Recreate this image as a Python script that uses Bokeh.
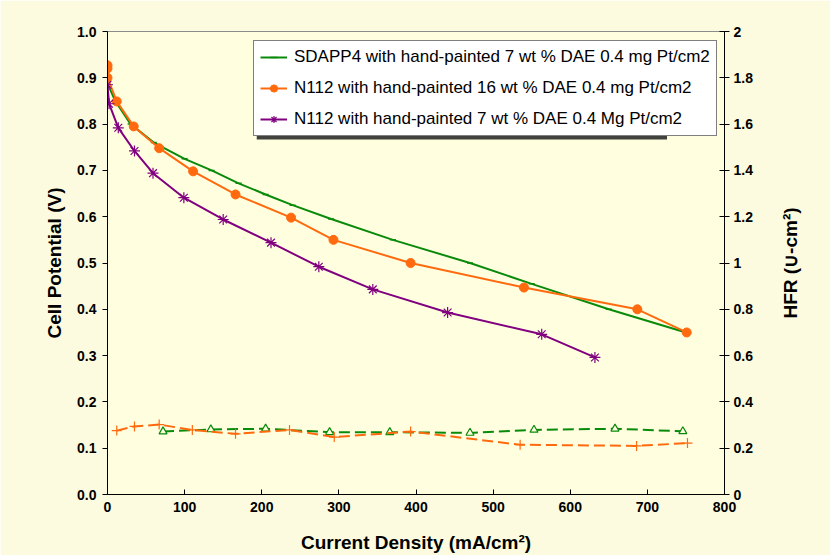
import math
from bokeh.plotting import figure
from bokeh.models import (Range1d, LinearAxis, Legend, LegendItem, BoxAnnotation, Label,
                          FixedTicker, PrintfTickFormatter, CustomJSTickFormatter)
from bokeh.embed import file_html
from bokeh.resources import INLINE

# ---- data ----
# SDAPP4 with hand-painted 7 wt % DAE (cell potential)
g_x = [0, 2, 10, 30, 60, 100, 135, 170, 205, 240, 290, 370, 470, 550, 650, 750]
g_v = [0.885, 0.880, 0.850, 0.800, 0.760, 0.725, 0.700, 0.672, 0.648, 0.625, 0.595, 0.550, 0.500, 0.455, 0.400, 0.350]
# N112 with hand-painted 16 wt % DAE (cell potential)
o_x = [0, 0, 0, 12, 34, 67, 111, 166, 238, 293, 393, 540, 687, 751]
o_v = [0.927, 0.920, 0.900, 0.849, 0.795, 0.748, 0.698, 0.648, 0.598, 0.550, 0.500, 0.447, 0.400, 0.350]
# N112 with hand-painted 7 wt % DAE (cell potential)
p_x = [0, 2, 14, 35, 59, 99, 150, 212, 274, 344, 441, 563, 632]
p_v = [0.885, 0.844, 0.792, 0.742, 0.694, 0.641, 0.594, 0.544, 0.492, 0.443, 0.393, 0.346, 0.296]
# HFR (right axis)
gh_x = [72, 134, 205, 288, 366, 470, 553, 658, 746]
gh_r = [0.272, 0.281, 0.284, 0.269, 0.269, 0.266, 0.279, 0.284, 0.273]
oh_x = [12, 35, 67, 110, 166, 236, 294, 393, 535, 686, 752]
oh_r = [0.276, 0.294, 0.302, 0.279, 0.262, 0.279, 0.248, 0.272, 0.215, 0.210, 0.222]

labels = ["SDAPP4 with hand-painted 7 wt % DAE 0.4 mg Pt/cm2",
          "N112 with hand-painted 16 wt % DAE 0.4 mg Pt/cm2",
          "N112 with hand-painted 7 wt % DAE 0.4 Mg Pt/cm2"]

GREEN = "#0A8A0A"
ORANGE = "#FF6A0E"
PURPLE = "#800080"
FONT = "Liberation Sans"

p = figure(width=830, height=555, output_backend="svg", toolbar_location=None,
           x_range=Range1d(0, 800), y_range=Range1d(0, 1.0),
           min_border_left=107, min_border_right=106, min_border_top=31, min_border_bottom=61)
p.extra_y_ranges = {"hfr": Range1d(0, 2)}
p.background_fill_color = "#FFFFE0"
p.border_fill_color = "#FCFBDF"
p.outline_line_color = "#8C8C8C"
p.xgrid.visible = False
p.ygrid.visible = False

# shadow of legend box
p.add_layout(BoxAnnotation(left=193.5, right=725.5, top=0.972, bottom=0.767,
                           fill_color="#202020", fill_alpha=0.85, line_color=None))

# main curves
rg = p.line(g_x, g_v, line_color=GREEN, line_width=2)
mg = p.scatter(g_x[1:], g_v[1:], marker="dash", size=6, line_color=GREEN, line_width=1.5)
ro = p.line(o_x, o_v, line_color=ORANGE, line_width=2)
mo = p.scatter(o_x, o_v, marker="circle", size=9, fill_color=ORANGE, line_color=ORANGE)
rp = p.line(p_x, p_v, line_color=PURPLE, line_width=2)
mp = p.scatter(p_x, p_v, marker="asterisk", size=11, line_color=PURPLE, line_width=1.2)

# HFR curves
p.line(gh_x, gh_r, y_range_name="hfr", line_color=GREEN, line_width=2, line_dash="11 5")
p.scatter(gh_x, gh_r, y_range_name="hfr", marker="triangle", size=8,
          fill_color="#FFFFE0", line_color=GREEN, line_width=1.2)
p.line(oh_x, oh_r, y_range_name="hfr", line_color=ORANGE, line_width=2, line_dash="11 5")
p.scatter(oh_x, oh_r, y_range_name="hfr", marker="cross", size=10,
          line_color=ORANGE, line_width=1.2)

# axes
xa = p.xaxis[0]
xa.ticker = FixedTicker(ticks=[0, 100, 200, 300, 400, 500, 600, 700, 800])
xa.axis_label = "Current Density (mA/cm²)"
ya = p.yaxis[0]
ya.ticker = FixedTicker(ticks=[i / 10 for i in range(11)])
ya.formatter = PrintfTickFormatter(format="%.1f")
ya.axis_label = "Cell Potential (V)"
ra = LinearAxis(y_range_name="hfr",
                ticker=FixedTicker(ticks=[i / 5 for i in range(11)]),
                formatter=CustomJSTickFormatter(code="return tick.toFixed(1).replace(/\\.0$/, '');"))
p.add_layout(ra, "right")

for ax in (xa, ya, ra):
    ax.axis_line_color = "black"
    ax.axis_line_width = 1
    ax.major_tick_line_color = "black"
    ax.minor_tick_line_color = None
    ax.major_label_text_font = FONT
    ax.major_label_text_font_style = "bold"
    ax.major_label_text_font_size = "14px"
    ax.major_label_text_color = "black"
    ax.axis_label_text_font = FONT
    ax.axis_label_text_font_style = "bold"
    ax.axis_label_text_font_size = "19px"
    ax.axis_label_text_color = "black"

xa.major_tick_in = 5
xa.major_tick_out = 0
xa.major_label_standoff = 7
xa.axis_label_standoff = 17
ya.major_tick_in = 0
ya.major_tick_out = 5
ya.major_label_standoff = 6
ya.axis_label_standoff = 9
ra.major_tick_in = 5
ra.major_tick_out = 5
ra.major_label_standoff = 4

# right axis title (reads bottom-to-top, centred on the frame), in the right panel
p.add_layout(Label(x=35, y=231.5, x_units="screen", y_units="screen",
                   text="HFR (∪-cm²)", angle=math.pi / 2,
                   text_align="center", text_baseline="middle",
                   text_font=FONT, text_font_style="bold", text_font_size="19px",
                   text_color="black"), "right")

legend = Legend(items=[LegendItem(label=labels[0], renderers=[rg, mg]),
                       LegendItem(label=labels[1], renderers=[ro, mo]),
                       LegendItem(label=labels[2], renderers=[rp, mp])],
                location=(146, 358))
legend.label_text_font = FONT
legend.label_text_font_size = "17px"
legend.label_text_color = "black"
legend.border_line_color = "black"
legend.border_line_width = 1
legend.background_fill_color = "white"
legend.background_fill_alpha = 1
legend.glyph_width = 27
legend.glyph_height = 18
legend.label_height = 18
legend.label_standoff = 7
legend.spacing = 11
legend.padding = 6
legend.margin = 0
p.add_layout(legend, "center")

open("out.html", "w").write(file_html(p, INLINE))
